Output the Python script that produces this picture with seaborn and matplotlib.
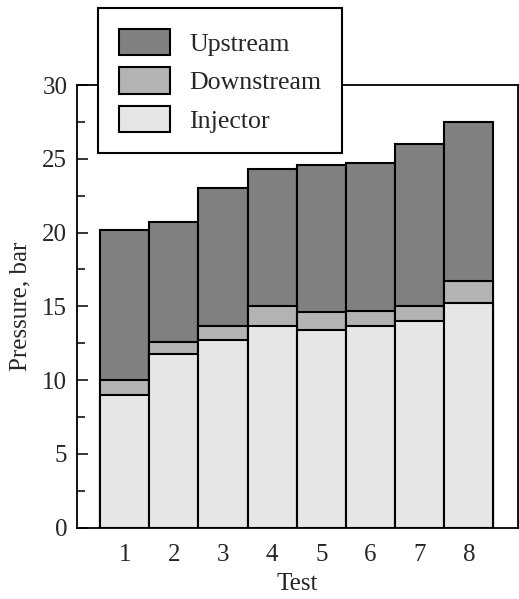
import matplotlib
matplotlib.use("Agg")
import matplotlib.pyplot as plt
from matplotlib.patches import Patch
from matplotlib.ticker import MultipleLocator
import seaborn as sns
import pandas as pd

# Pressures measured at each location per test (bar)
tests = ["1", "2", "3", "4", "5", "6", "7", "8"]
upstream = [20.2, 20.7, 23.0, 24.3, 24.6, 24.7, 26.0, 27.5]
downstream = [10.0, 12.6, 13.7, 15.0, 14.6, 14.7, 15.0, 16.7]
injector = [9.0, 11.8, 12.7, 13.7, 13.4, 13.7, 14.0, 15.2]

series_names = ["Upstream", "Downstream", "Injector"]
series_colors = ["#808080", "#b3b3b3", "#e6e6e6"]

df = pd.DataFrame({"Test": tests, "Upstream": upstream,
                   "Downstream": downstream, "Injector": injector})

sns.set_style("ticks")
plt.rcParams["font.family"] = ["Liberation Serif", "DejaVu Serif"]
plt.rcParams["font.size"] = 18

fig = plt.figure(figsize=(5.19, 5.99), dpi=100)
ax = fig.add_axes([77 / 519, 1 - 527.7 / 599, (518 - 77) / 519, (527.7 - 85) / 599])

# Each pressure is drawn from zero; lower pressures overlay higher ones
for name, color in zip(series_names, series_colors):
    sns.barplot(data=df, x="Test", y=name, order=tests, color=color,
                width=1.0, edgecolor="black", linewidth=1.5,
                saturation=1, ax=ax, zorder=2)

ax.set_xlim(-0.97, 8.0)
ax.set_ylim(0, 30)
ax.yaxis.set_major_locator(MultipleLocator(5))
ax.yaxis.set_minor_locator(MultipleLocator(2.5))
ax.tick_params(axis="y", which="major", direction="in", length=8,
               width=1.3, pad=7, labelsize=18, right=False)
ax.tick_params(axis="y", which="minor", direction="in", length=6,
               width=1.3, right=False)
ax.tick_params(axis="x", length=0, pad=12, labelsize=18)
ax.set_xlabel("Test", fontsize=18, labelpad=5)
ax.set_ylabel("Pressure, bar", fontsize=18, labelpad=8)
for sp in ax.spines.values():
    sp.set_visible(True)
    sp.set_linewidth(1.3)
    sp.set_color("black")

handles = [Patch(facecolor=c, edgecolor="black", linewidth=1.5, label=n)
           for n, c in zip(series_names, series_colors)]
leg = fig.legend(handles=handles, loc="upper left",
                 bbox_to_anchor=(98 / 519, 1 - 8 / 599),
                 bbox_transform=fig.transFigure, borderaxespad=0,
                 fontsize=18.6, frameon=True, fancybox=False,
                 handlelength=2.0, handleheight=1.2, labelspacing=0.45,
                 borderpad=0.8, handletextpad=0.72)
leg.get_frame().set_edgecolor("black")
leg.get_frame().set_linewidth(1.5)
leg.get_frame().set_alpha(1)
leg.set_zorder(10)

fig.savefig("out.png", dpi=100)
